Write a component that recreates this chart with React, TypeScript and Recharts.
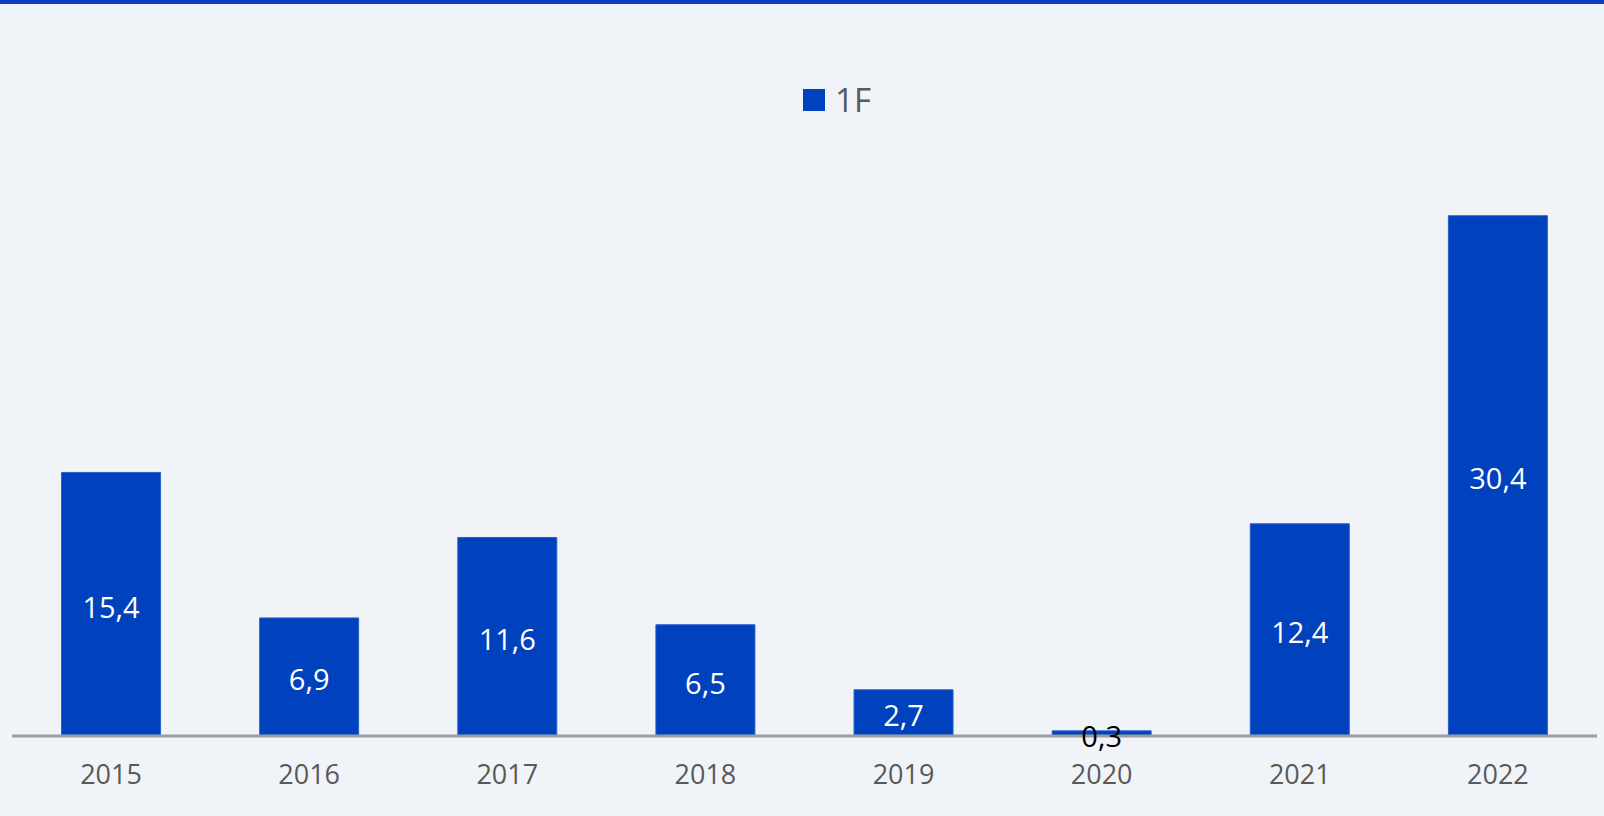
import React from "react";
import { BarChart, Bar, XAxis, YAxis, Legend, LabelList } from "recharts";

const years = ["2015", "2016", "2017", "2018", "2019", "2020", "2021", "2022"];
const values1F = [15.4, 6.9, 11.6, 6.5, 2.7, 0.3, 12.4, 30.4];

const data = years.map((year, i) => ({ year, v: values1F[i] }));

const BLUE = "#0041be";
const FONT = "'Open Sans', Lato, sans-serif";

const fmt = (v: number) => v.toFixed(1).replace(".", ",");

const renderLabel = (props: any) => {
  const { x, y, width, height, value } = props;
  const small = value < 1;
  return (
    <text
      x={x + width / 2}
      y={y + height / 2 + 2}
      textAnchor="middle"
      dominantBaseline="central"
      fill={small ? "#000000" : "#ffffff"}
      fontSize={29}
      fontFamily={FONT}
    >
      {fmt(value)}
    </text>
  );
};

const renderLegend = () => (
  <div style={{ display: "flex", alignItems: "center", justifyContent: "center", paddingLeft: 70 }}>
    <span style={{ width: 22, height: 22, background: BLUE, display: "inline-block", marginRight: 10 }} />
    <span style={{ fontSize: 33, color: "#595959", fontFamily: FONT, lineHeight: "34px" }}>1F</span>
  </div>
);

export default function App() {
  return (
    <div
      style={{
        position: "absolute",
        left: 0,
        top: 0,
        width: 1604,
        height: 816,
        background: "#f0f4f8",
        overflow: "hidden",
      }}
    >
      <div style={{ position: "absolute", left: 0, top: 0, width: 1604, height: 4, background: "#0a40c0" }} />
      <BarChart
        width={1604}
        height={816}
        data={data}
        margin={{ top: 137, right: 7, bottom: 20, left: 12 }}
        barCategoryGap="25%"
      >
        <XAxis
          dataKey="year"
          axisLine={{ stroke: "#9a9da1", strokeWidth: 3 }}
          tickLine={false}
          height={60}
          tickMargin={23}
          tick={{ fill: "#595959", fontSize: 27, fontFamily: FONT }}
        />
        <YAxis hide domain={[0, 35]} />
        <Legend
          verticalAlign="middle"
          align="center"
          content={renderLegend}
          wrapperStyle={{ top: 83, left: 0, width: 1604 }}
        />
        <Bar dataKey="v" name="1F" fill={BLUE} stroke="#2a5fcc" strokeWidth={1} isAnimationActive={false}>
          <LabelList dataKey="v" content={renderLabel} />
        </Bar>
      </BarChart>
    </div>
  );
}
